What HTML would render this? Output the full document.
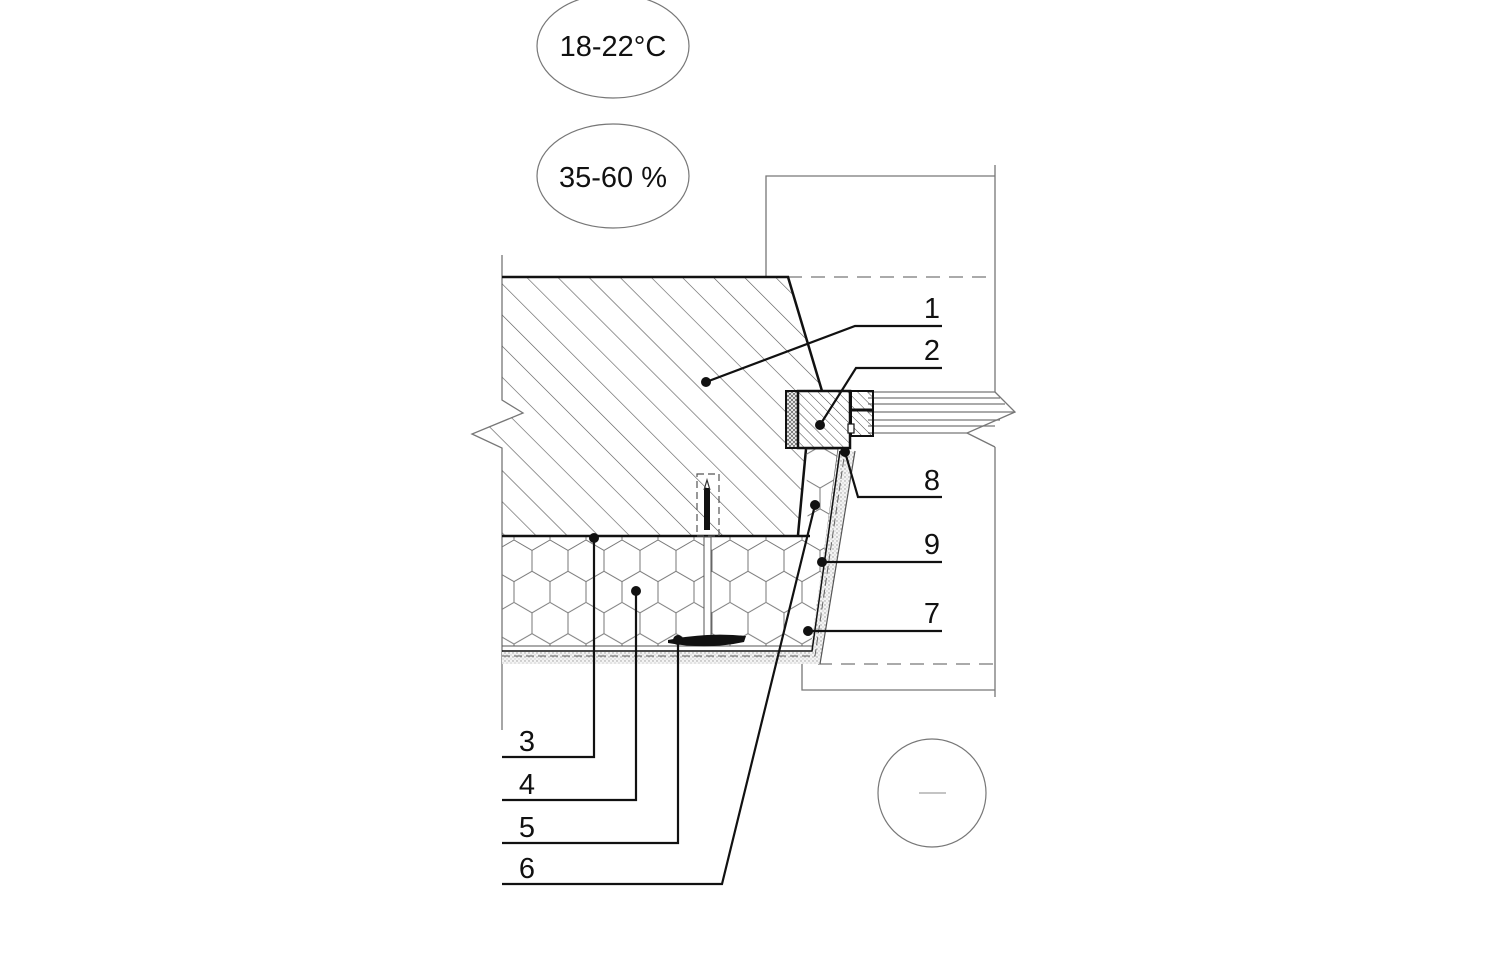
<!DOCTYPE html>
<html><head><meta charset="utf-8"><style>
html,body{margin:0;padding:0;background:#fff;}
svg{display:block;}
text{font-family:"Liberation Sans",sans-serif;font-size:29px;fill:#111;}
</style></head><body>
<svg width="1500" height="972" viewBox="0 0 1500 972" xmlns="http://www.w3.org/2000/svg">
<defs>
<pattern id="hatch" patternUnits="userSpaceOnUse" width="22" height="22" patternTransform="rotate(-45)">
<line x1="0" y1="0" x2="0" y2="22" stroke="#555" stroke-width="1.2"/>
</pattern>
<pattern id="hatch2" patternUnits="userSpaceOnUse" width="7" height="7" patternTransform="rotate(-45)">
<line x1="0" y1="0" x2="0" y2="7" stroke="#444" stroke-width="1"/>
</pattern>
<pattern id="hex" patternUnits="userSpaceOnUse" width="36" height="62.4" x="496" y="540">
<path d="M0,10.4 L18,0 L36,10.4 M0,10.4 L0,31.2 M36,10.4 L36,31.2 M0,31.2 L18,41.6 L36,31.2 M18,41.6 L18,62.4" fill="none" stroke="#777" stroke-width="1"/>
</pattern>
<pattern id="dots" patternUnits="userSpaceOnUse" width="4" height="4">
<rect width="4" height="4" fill="#f4f4f4"/><circle cx="1" cy="1" r="0.7" fill="#999"/><circle cx="3" cy="3" r="0.6" fill="#bbb"/>
</pattern>
<pattern id="cross" patternUnits="userSpaceOnUse" width="4" height="4">
<rect width="4" height="4" fill="#fff"/><path d="M0,0L4,4M4,0L0,4" stroke="#666" stroke-width="0.8"/>
</pattern>
</defs>

<ellipse cx="613" cy="46" rx="76" ry="52" fill="none" stroke="#777" stroke-width="1.2"/>
<text x="613" y="56" text-anchor="middle">18-22°C</text>
<ellipse cx="613" cy="176" rx="76" ry="52" fill="none" stroke="#777" stroke-width="1.2"/>
<text x="613" y="187" text-anchor="middle">35-60 %</text>

<g stroke="#777" stroke-width="1.3" fill="none">
<polyline points="766,277 766,176 995,176"/>
<line x1="995" y1="165" x2="995" y2="392"/>
<line x1="788" y1="277" x2="995" y2="277" stroke-dasharray="14,9"/>
<line x1="995" y1="447" x2="995" y2="697"/>
<line x1="818" y1="664" x2="995" y2="664" stroke-dasharray="14,9"/>
<polyline points="802,664 802,690 995,690"/>
<line x1="868" y1="392" x2="995" y2="392"/>
<line x1="868" y1="398" x2="1000" y2="398"/>
<line x1="868" y1="404" x2="1005" y2="404"/>
<line x1="868" y1="412" x2="1015" y2="412"/>
<line x1="868" y1="420" x2="1000" y2="420"/>
<line x1="868" y1="426" x2="995" y2="426"/>
<polyline points="995,392 1015,412 967,433 995,447"/>
<line x1="868" y1="433" x2="967" y2="433"/>
<polyline points="502,255 502,400 523,413 472,434 502,448 502,730"/>
</g>

<path d="M502,277 L788,277 L822,391 L786,391 L786,449 L806,449 L798,535 L502,535 L502,448 L472,434 L523,413 L502,400 Z" fill="url(#hatch)"/>
<path d="M502,277 L788,277 L822,391" fill="none" stroke="#111" stroke-width="2.5"/>
<line x1="806" y1="449" x2="798" y2="535" stroke="#111" stroke-width="2.5"/>

<path d="M502,537 L808,537 L806,449 L838,449 L812,646 L502,646 Z" fill="url(#hex)"/>
<path d="M806,449 L838,449 L812,646" fill="none" stroke="#555" stroke-width="1"/>
<path d="M838,451 L855,451 L820,664 L502,664 L502,652 L810,652 Z" fill="url(#dots)"/>
<path d="M502,651 L812,651 L840,451" fill="none" stroke="#111" stroke-width="1.5"/>
<path d="M502,656 L815,656 L845,451" fill="none" stroke="#666" stroke-width="1" stroke-dasharray="8,4"/>
<line x1="855" y1="451" x2="820" y2="664" stroke="#555" stroke-width="1.2"/>
<line x1="502" y1="536" x2="810" y2="536" stroke="#111" stroke-width="2.5"/>
<line x1="502" y1="646" x2="812" y2="646" stroke="#555" stroke-width="1"/>

<rect x="697" y="474" width="22" height="62" fill="none" stroke="#555" stroke-width="1.2" stroke-dasharray="7,4"/>
<rect x="704" y="488" width="6" height="42" fill="#111"/>
<path d="M704,490 L707,480 L710,490" fill="none" stroke="#333" stroke-width="1.2"/>
<rect x="704" y="537" width="7" height="102" fill="#fff" stroke="#555" stroke-width="1"/>
<path d="M668,640 Q707,632 746,636 L744,642 Q707,650 668,643 Z" fill="#111"/>

<rect x="786" y="391" width="12" height="57" fill="url(#cross)" stroke="#111" stroke-width="2"/>
<rect x="798" y="391" width="52" height="57" fill="url(#hatch2)" stroke="#111" stroke-width="2.5"/>
<rect x="851" y="391" width="22" height="45" fill="url(#hatch2)" stroke="#111" stroke-width="2"/>
<line x1="849" y1="410" x2="872" y2="410" stroke="#111" stroke-width="3"/>
<rect x="848" y="424" width="6" height="9" fill="#fff" stroke="#111" stroke-width="1.2"/>

<g stroke="#111" stroke-width="2.2" fill="none">
<polyline points="706,382 855,326 942,326"/>
<polyline points="820,425 856,368 942,368"/>
<polyline points="845,452 858,497 942,497"/>
<line x1="822" y1="562" x2="942" y2="562"/>
<line x1="808" y1="631" x2="942" y2="631"/>
<polyline points="594,538 594,757 502,757"/>
<polyline points="636,591 636,800 502,800"/>
<polyline points="678,640 678,843 502,843"/>
<polyline points="815,505 722,884 502,884"/>
</g>
<g fill="#111">
<circle cx="706" cy="382" r="5"/><circle cx="820" cy="425" r="5"/><circle cx="845" cy="452" r="5"/>
<circle cx="822" cy="562" r="5"/><circle cx="808" cy="631" r="5"/><circle cx="594" cy="538" r="5"/>
<circle cx="636" cy="591" r="5"/><circle cx="678" cy="640" r="5"/><circle cx="815" cy="505" r="5"/>
</g>
<text x="932" y="318" text-anchor="middle">1</text>
<text x="932" y="360" text-anchor="middle">2</text>
<text x="932" y="490" text-anchor="middle">8</text>
<text x="932" y="554" text-anchor="middle">9</text>
<text x="932" y="623" text-anchor="middle">7</text>
<text x="527" y="751" text-anchor="middle">3</text>
<text x="527" y="794" text-anchor="middle">4</text>
<text x="527" y="837" text-anchor="middle">5</text>
<text x="527" y="878" text-anchor="middle">6</text>

<circle cx="932" cy="793" r="54" fill="none" stroke="#777" stroke-width="1.2"/>
<line x1="919" y1="793" x2="946" y2="793" stroke="#888" stroke-width="1"/>
</svg>
</body></html>
